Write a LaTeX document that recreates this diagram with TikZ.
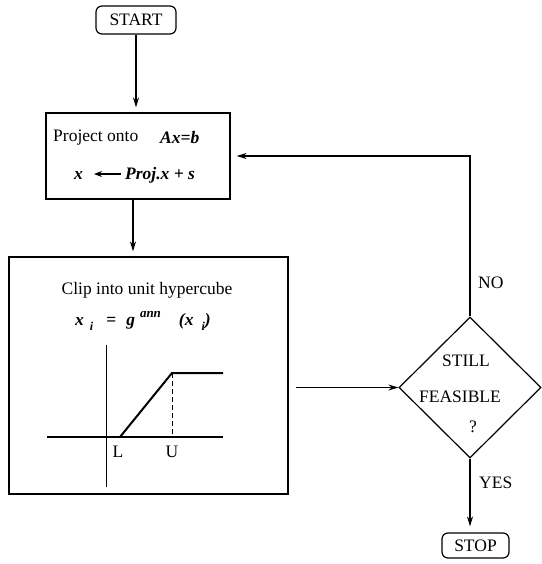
\documentclass[tikz,border=0pt]{standalone}
\usepackage{fontspec}
\setmainfont{Liberation Serif}
\usetikzlibrary{arrows.meta,shapes.geometric}
\begin{document}
\begin{tikzpicture}[x=1pt,y=-1pt,
  box/.style={draw,line width=1.2pt,inner sep=0pt},
  term/.style={draw,line width=1.2pt,rounded corners=6pt,inner sep=0pt},
  lbl/.style={font=\fontsize{17.5}{20}\selectfont,inner sep=0pt},
  arr/.style={line width=1.1pt,-{Stealth[length=10pt,width=6pt]}}]
\useasboundingbox (0,0) rectangle (541,564);
% terminals
\node[term,lbl,minimum width=80pt,minimum height=28pt] (start) at (136,20) {START};
\node[term,lbl,minimum width=67pt,minimum height=25pt] (stop) at (475.5,545.5) {STOP};
% project box
\node[box,minimum width=184pt,minimum height=86pt] (proj) at (138,156) {};
\node[lbl,anchor=west] (ptxt) at (53,138) {Project onto};
\node[lbl,anchor=west] (peq) at (160,138) {\textbf{\textit{Ax=b}}};
\node[lbl,anchor=west] (px) at (74,175) {\textbf{\textit{x}}};
\coordinate (pa1) at (121,174);
\coordinate (pa2) at (94,174);
\draw[line width=1.3pt,-{Stealth[length=8pt,width=6pt]}] (pa1) -- (pa2);
\node[lbl,anchor=west] (pproj) at (125,175) {\textbf{\textit{Proj.x + s}}};
% clip box
\node[box,minimum width=279pt,minimum height=237pt] (clip) at (148.5,375.5) {};
\node[lbl] (cliptxt) at (147,290) {Clip into unit hypercube};
\node[lbl,anchor=base west] (formula) at (75,325) {\textbf{\textit{x}}\hspace{6pt}\raisebox{-5pt}{\fontsize{12}{12}\selectfont\textbf{\textit{i}}}\hspace{13pt}\textbf{=}\hspace{10pt}\textbf{\textit{g}}\hspace{5pt}\raisebox{8pt}{\fontsize{13}{13}\selectfont\textbf{\textit{ann}}}\hspace{18pt}\textbf{\textit{(x}}\hspace{8pt}\raisebox{-5pt}{\fontsize{12}{12}\selectfont\textbf{\textit{i}}}\textbf{\textit{)}}};
% graph
\coordinate (ha) at (47,437);
\coordinate (hb) at (223,437);
\coordinate (va) at (106,345);
\coordinate (vb) at (106,487);
\coordinate (rl) at (120,437);
\coordinate (ru) at (172,373);
\coordinate (re) at (223,373);
\coordinate (ud) at (172,437);
\draw[line width=1.2pt] (ha) -- (hb);
\draw[line width=1pt] (va) -- (vb);
\draw[line width=2pt] (rl) -- (ru) -- (re);
\draw[line width=1pt,dash pattern=on 5pt off 3pt] (ru) -- (ud);
\node[lbl] (lL) at (118,452) {L};
\node[lbl] (lU) at (172,452) {U};
% decision
\node[draw,line width=1.2pt,diamond,minimum width=142pt,minimum height=141pt,inner sep=0pt] (dia) at (470,387.5) {};
\node[lbl] (still) at (466,361) {STILL};
\node[lbl] (feas) at (460,397) {FEASIBLE};
\node[lbl] (q) at (473,427) {?};
\node[lbl,anchor=west] (no) at (478,283) {NO};
\node[lbl,anchor=west] (yes) at (479,483) {YES};
% connectors
\draw[arr,shorten >=5pt] (start.south) -- (start.south |- proj.north);
\draw[arr,shorten >=5pt] ([xshift=-5pt]proj.south) -- ([xshift=-5pt]proj.south |- clip.north);
\draw[arr] ([xshift=7pt]clip.east |- dia.west) -- (dia.west);
\draw[arr,shorten >=6pt] (dia.north) |- (proj.east);
\draw[arr,shorten >=6pt] (dia.south) -- (dia.south |- stop.north);
\end{tikzpicture}
\end{document}
